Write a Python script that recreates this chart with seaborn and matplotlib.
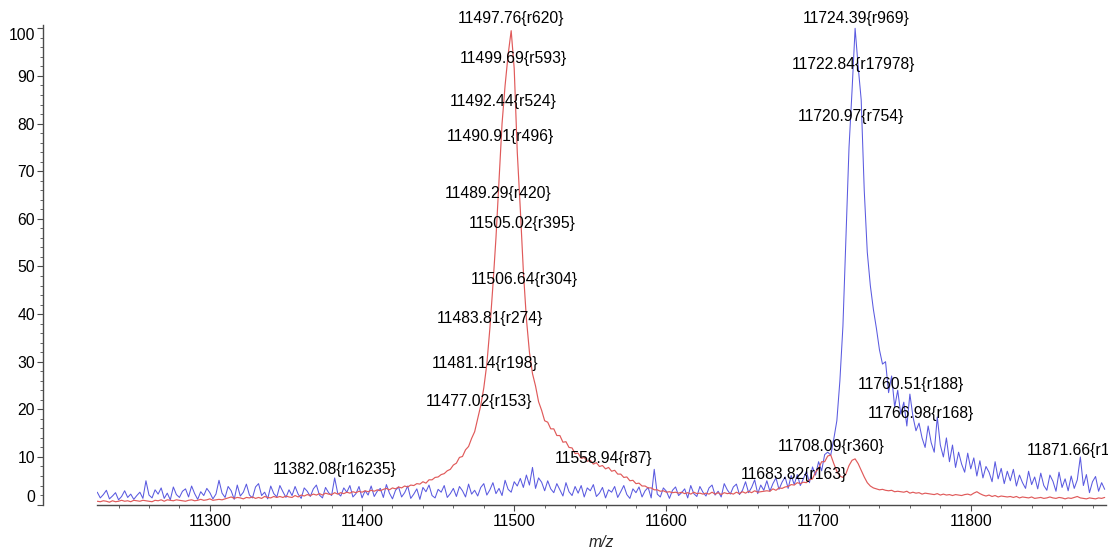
import numpy as np
import matplotlib
matplotlib.use('Agg')
import matplotlib.pyplot as plt
from matplotlib.ticker import MultipleLocator
import seaborn as sns

# Config
OUT_PATH = 'out.png'
RED = '#e05a5a'
BLUE = '#5a5ae0'

# m/z grid (2 Da sampling, 11226 .. 11888)
MZ_START = 11226
MZ_STEP = 2

# red trace, one row = 10 points (20 Da)
RED_INT = [
    0.7, 0.6, 0.8, 0.7, 0.5, 0.8, 0.6, 0.7, 0.9, 0.7,        # 11226
    0.8, 0.6, 0.9, 0.8, 0.7, 0.9, 0.8, 0.7, 0.6, 0.9,        # 11246
    0.8, 1.0, 0.7, 1.0, 0.9, 0.8, 1.0, 0.9, 0.8, 0.7,        # 11266
    0.9, 1.0, 0.8, 0.9, 1.1, 0.9, 1.0, 1.2, 0.9, 1.0,        # 11286
    1.1, 1.0, 1.2, 1.4, 1.6, 1.3, 1.5, 1.4, 1.2, 1.5,        # 11306
    1.4, 1.6, 1.3, 1.5, 1.3, 1.7, 1.5, 1.4, 1.7, 1.5,        # 11326
    1.7, 1.5, 1.8, 1.6, 1.5, 1.9, 1.6, 2.0, 1.8, 2.1,        # 11346
    1.9, 2.2, 2.0, 2.3, 2.0, 2.4, 2.2, 2.1, 2.5, 2.2,        # 11366
    2.5, 2.3, 2.6, 2.4, 2.7, 2.5, 2.8, 2.6, 2.9, 2.7,        # 11386
    3.0, 2.8, 3.1, 2.9, 3.2, 3.4, 3.1, 3.5, 3.3, 3.7,        # 11406
    3.5, 3.9, 3.7, 4.1, 4.0, 4.4, 4.3, 4.8, 4.5, 5.2,        # 11426
    5.2, 5.7, 5.8, 6.3, 6.5, 7.1, 7.4, 8.3, 8.7, 9.9,        # 11446
    10.1, 11.5, 12.2, 13.9, 15.3, 18.0, 20.8, 24.5, 29.5, 37.0,  # 11466
    46.0, 56.0, 68.0, 80.0, 88.0, 94.5, 99.5, 91.5, 74.0, 62.0,  # 11486
    49.0, 39.0, 32.0, 27.5, 24.9, 21.6, 19.8, 17.6, 17.3, 15.9,  # 11506
    15.9, 14.5, 14.5, 13.1, 13.2, 12.0, 11.9, 10.7, 10.8, 9.7,   # 11526
    9.9, 9.1, 9.3, 8.5, 8.8, 8.0, 8.2, 7.5, 7.8, 7.0,        # 11546
    7.2, 6.4, 6.4, 5.7, 5.8, 5.0, 5.1, 4.4, 4.5, 3.9,        # 11566
    3.9, 3.5, 3.5, 3.1, 3.1, 2.8, 2.9, 2.6, 2.7, 2.5,        # 11586
    2.6, 2.4, 2.6, 2.3, 2.5, 2.2, 2.6, 2.3, 2.4, 2.2,        # 11606
    2.4, 2.2, 2.6, 2.2, 2.5, 2.1, 2.5, 2.3, 2.4, 2.2,        # 11626
    2.6, 2.3, 2.7, 2.4, 2.8, 2.5, 2.9, 2.6, 2.7, 2.8,        # 11646
    2.9, 2.8, 3.3, 3.0, 3.5, 3.4, 3.7, 3.8, 4.2, 4.1,        # 11666
    4.6, 4.4, 4.7, 4.6, 5.2, 5.4, 6.8, 7.6, 9.0, 9.0,        # 11686
    10.2, 10.4, 8.6, 7.0, 6.0, 5.7, 6.5, 8.2, 9.3, 9.6,      # 11706
    8.6, 7.2, 5.8, 4.6, 3.9, 3.5, 3.3, 3.1, 3.2, 3.0,        # 11726
    2.9, 3.0, 2.7, 2.8, 2.7, 2.6, 2.8, 2.4, 2.6, 2.4,        # 11746
    2.5, 2.2, 2.4, 2.3, 2.2, 2.1, 2.3, 2.0, 2.2, 2.0,        # 11766
    2.1, 1.9, 2.1, 2.0, 1.9, 2.1, 2.2, 2.0, 2.4, 2.7,        # 11786
    2.3, 2.0, 1.8, 2.0, 1.7, 1.9, 1.6, 1.8, 1.7, 1.6,        # 11806
    1.7, 1.5, 1.7, 1.4, 1.6, 1.5, 1.4, 1.6, 1.3, 1.4,        # 11826
    1.5, 1.3, 1.4, 1.6, 1.4, 1.3, 1.5, 1.4, 1.2, 1.4,        # 11846
    1.3, 1.5, 1.7, 1.4, 1.3, 1.2, 1.4, 1.3, 1.2, 1.4,        # 11866
    1.3, 1.5,                                                # 11886
]

# blue trace
BLUE_INT = [
    2.6, 1.4, 2.1, 3.0, 1.2, 1.8, 2.5, 1.0, 1.7, 2.9,        # 11226
    1.5, 2.2, 1.1, 1.9, 2.6, 1.3, 5.0, 2.0, 1.4, 3.1,        # 11246
    2.2, 3.5, 1.3, 2.4, 1.0, 3.7, 2.1, 1.5, 2.8, 3.3,        # 11266
    1.6, 3.9, 2.3, 1.1, 2.7, 1.9, 3.4, 2.5, 1.2, 2.2,        # 11286
    5.1, 2.4, 1.5, 3.8, 2.9, 1.1, 4.1, 1.8, 2.6, 4.3,        # 11306
    2.0, 1.4, 3.7, 4.4, 1.9, 2.6, 1.2, 3.9, 2.3, 1.6,        # 11326
    4.0, 2.7, 1.5, 3.1, 1.9, 3.8, 2.2, 1.3, 3.5, 2.8,        # 11346
    1.7, 3.3, 4.1, 2.0, 1.4, 3.6, 2.5, 1.9, 5.6, 2.4,        # 11366
    1.8, 3.5, 2.6, 4.0, 1.6, 2.3, 3.8, 1.4, 2.9, 2.0,        # 11386
    3.9, 1.7, 2.8, 3.4, 1.5, 4.2, 2.4, 1.2, 3.0, 3.7,        # 11406
    1.6, 2.5, 3.9, 1.3, 2.2, 3.3, 1.1, 3.6, 2.7, 4.1,        # 11426
    1.9, 1.4, 3.2, 2.6, 4.0, 1.5, 2.3, 3.4, 1.7, 3.8,        # 11446
    2.9, 1.6, 4.3, 2.2, 3.0, 1.8, 3.6, 4.4, 2.0, 3.1,        # 11466
    4.6, 2.3, 3.4, 1.9, 5.1, 3.2, 2.6, 4.8, 3.9, 5.5,        # 11486
    3.6, 6.2, 4.1, 7.8, 3.4, 5.6, 4.7, 2.9, 5.0, 3.3,        # 11506
    2.5, 4.4, 3.1, 1.8, 4.6, 2.7, 1.9, 3.8, 2.4, 4.0,        # 11526
    1.6, 3.5, 2.9, 4.2, 1.7, 2.4, 3.6, 1.4, 3.1, 2.6,        # 11546
    3.8, 1.5, 2.7, 4.0, 2.1, 1.3, 3.3, 2.5, 3.7, 1.6,        # 11566
    2.9, 3.6, 1.4, 7.4, 2.2, 1.6, 3.5, 2.8, 1.3, 3.0,        # 11586
    3.7, 1.9, 2.5, 3.3, 1.4, 4.0, 2.3, 1.7, 3.8, 2.6,        # 11606
    1.8, 3.5, 4.1, 2.0, 2.8, 1.6, 4.4, 3.1, 2.2, 3.7,        # 11626
    4.3, 2.1, 3.0, 4.8, 2.5, 3.6, 5.2, 2.3, 4.1, 3.0,        # 11646
    5.0, 2.8, 4.4, 5.6, 3.2, 4.7, 5.8, 3.4, 6.1, 4.2,        # 11666
    6.3, 4.0, 5.4, 7.0, 4.6, 7.9, 6.2, 9.0, 7.1, 10.5,       # 11686
    11.0, 10.4, 13.8, 17.6, 26.0, 37.5, 56.0, 75.0, 87.0, 100.0,  # 11706
    92.0, 85.0, 66.0, 53.0, 46.0, 41.0, 37.0, 32.5, 29.5, 30.0,   # 11726
    23.5, 27.0, 20.5, 24.0, 19.0, 21.5, 16.5, 23.2, 18.5, 15.5,   # 11746
    17.1, 14.0, 12.0, 16.5, 13.0, 11.0, 18.4, 12.5, 10.0, 14.0,   # 11766
    9.0, 12.5, 7.8, 11.0, 8.5, 6.8, 10.8, 7.5, 9.8, 6.0,     # 11786
    9.2, 5.6, 8.0, 6.8, 4.8, 9.0, 5.4, 7.6, 4.4, 7.0,        # 11806
    5.0, 7.4, 3.9, 6.2, 4.6, 3.4, 7.0, 4.2, 5.8, 3.3,        # 11826
    6.6, 4.0, 3.0, 6.2, 4.9, 2.8, 6.8, 3.6, 5.4, 2.9,        # 11846
    6.0, 3.4, 5.2, 10.0, 4.0, 6.3, 2.5, 4.8, 5.9, 2.8,       # 11866
    4.6, 3.2,                                                # 11886
]

# peak labels: m/z, resolution tag, intensity of the labelled point
LABEL_MZ = [11497.76, 11499.69, 11492.44, 11490.91, 11489.29, 11505.02, 11506.64,
            11483.81, 11481.14, 11477.02, 11558.94, 11382.08, 11724.39, 11722.84,
            11720.97, 11760.51, 11766.98, 11708.09, 11683.82, 11871.66]
LABEL_RES = ['r620', 'r593', 'r524', 'r496', 'r420', 'r395', 'r304',
             'r274', 'r198', 'r153', 'r87', 'r16235', 'r969', 'r17978',
             'r754', 'r188', 'r168', 'r360', 'r163', 'r124']
LABEL_INT = [100.1, 91.7, 82.6, 75.3, 63.3, 57.0, 45.3,
             37.1, 27.6, 19.6, 7.6, 5.3, 100.1, 90.4,
             79.5, 23.2, 17.1, 10.2, 4.3, 9.3]

X_TICKS = [11300, 11400, 11500, 11600, 11700, 11800]
Y_TICKS = [0, 10, 20, 30, 40, 50, 60, 70, 80, 90, 100]


def main():
    sns.set_style('white')
    plt.rcParams['font.family'] = ['Liberation Sans', 'DejaVu Sans']

    mz = MZ_START + MZ_STEP * np.arange(len(BLUE_INT))

    fig = plt.figure(figsize=(11.08, 5.49), dpi=100)
    ax = fig.add_axes([0.0875, 0.0809, 0.9106, 0.8736])

    sns.lineplot(x=mz, y=BLUE_INT, ax=ax, color=BLUE, linewidth=0.75, sort=False)
    sns.lineplot(x=mz, y=RED_INT, ax=ax, color=RED, linewidth=0.85, sort=False)

    # peak annotations, centred on the m/z value just above the point
    for m, r, v in zip(LABEL_MZ, LABEL_RES, LABEL_INT):
        ax.annotate(f'{m:.2f}{{{r}}}', xy=(m, v), xytext=(0, 1.5),
                    textcoords='offset points', ha='center', va='bottom',
                    fontsize=11.3, color='black', annotation_clip=False)

    ax.set_xlim(11225.8, 11888.8)
    ax.set_ylim(0, 100.7)

    # axes styling
    for side in ['top', 'right']:
        ax.spines[side].set_visible(False)
    ax.spines['left'].set_position(('outward', 39))
    ax.spines['left'].set_bounds(0, 100.7)
    for side in ['left', 'bottom']:
        ax.spines[side].set_color('#4a4a4a')
        ax.spines[side].set_linewidth(1.0)

    ax.set_xticks(X_TICKS)
    ax.set_yticks(Y_TICKS)
    ax.xaxis.set_minor_locator(MultipleLocator(20))
    ax.yaxis.set_minor_locator(MultipleLocator(2))
    ax.tick_params(axis='both', which='major', direction='out', length=4,
                   width=0.8, color='#4a4a4a', labelsize=11.3, labelcolor='black')
    ax.tick_params(axis='both', which='minor', direction='out', length=2.5,
                   width=0.6, color='#4a4a4a')
    ax.tick_params(axis='y', which='major', pad=1.5)
    ax.tick_params(axis='x', which='major', pad=3)
    ax.tick_params(left=True, bottom=True, which='both')

    # end labels sit inside the axis span
    ylabels = ax.get_yticklabels()
    ylabels[0].set_va('bottom')
    ylabels[-1].set_va('top')

    ax.set_xlabel('m/z', fontsize=11.3, style='italic', labelpad=4)
    ax.set_ylabel('')
    ax.grid(False)

    fig.savefig(OUT_PATH, dpi=100)
    plt.close(fig)
    print(f"Saved chart to '{OUT_PATH}'")


if __name__ == '__main__':
    main()
